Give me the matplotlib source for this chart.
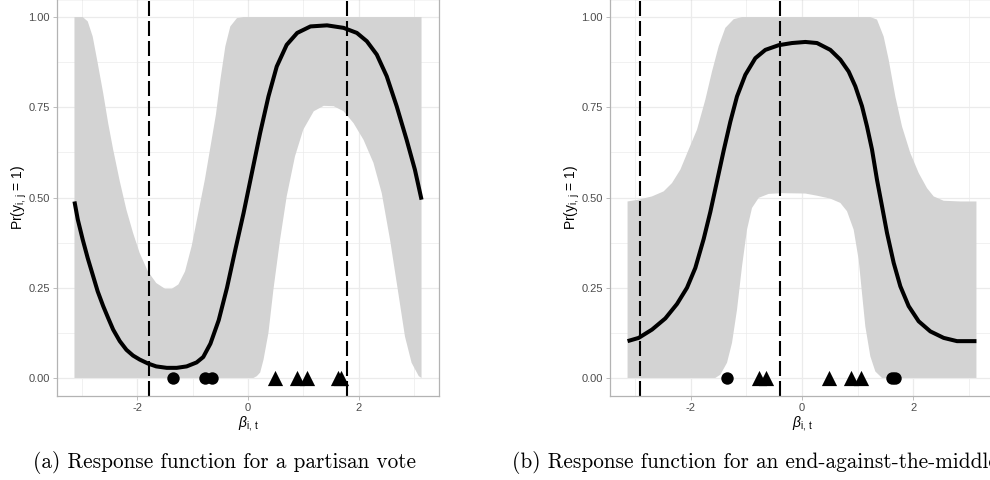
import numpy as np
import matplotlib
matplotlib.use("Agg")
import matplotlib.pyplot as plt
from matplotlib.ticker import MultipleLocator

plt.rcParams['font.family'] = ['Liberation Sans', 'DejaVu Sans']
plt.rcParams['mathtext.fontset'] = 'custom'
plt.rcParams['mathtext.rm'] = 'Liberation Sans'
plt.rcParams['mathtext.it'] = 'Liberation Sans:italic'

# ideal points of the legislators, shared by both votes
ideal_points = [-1.35, -0.77, -0.65, 0.49, 0.88, 1.07, 1.62, 1.68]

# (a) partisan vote
a_vote = [0, 0, 0, 1, 1, 1, 1, 1]
a_mean_x = [-3.14, -3.08, -2.99, -2.90, -2.81, -2.72, -2.62, -2.53, -2.44, -2.32,
            -2.20, -2.08, -1.96, -1.81, -1.66, -1.47, -1.29, -1.11, -0.93, -0.81,
            -0.68, -0.53, -0.38, -0.23, -0.08, 0.07, 0.22, 0.37, 0.52, 0.70, 0.89,
            1.13, 1.43, 1.73, 1.97, 2.15, 2.33, 2.51, 2.69, 2.87, 3.02, 3.14]
a_mean_y = [0.489, 0.439, 0.383, 0.332, 0.286, 0.240, 0.199, 0.166, 0.134, 0.102,
            0.078, 0.062, 0.051, 0.040, 0.032, 0.028, 0.028, 0.032, 0.043, 0.058,
            0.095, 0.160, 0.250, 0.355, 0.457, 0.568, 0.679, 0.780, 0.863, 0.923, 0.956,
            0.974, 0.977, 0.970, 0.956, 0.933, 0.896, 0.836, 0.753, 0.660, 0.577, 0.494]
a_upper_x = [-3.14, -2.99, -2.90, -2.81, -2.72, -2.62, -2.53, -2.44, -2.32, -2.20,
             -2.08, -1.96, -1.81, -1.66, -1.50, -1.38, -1.26, -1.14, -1.02, -0.90,
             -0.78, -0.68, -0.58, -0.50, -0.41, -0.32, -0.20, -0.08, 3.14]
a_upper_y = [1.0, 1.0, 0.988, 0.946, 0.873, 0.789, 0.706, 0.633, 0.545, 0.466,
             0.402, 0.346, 0.295, 0.263, 0.247, 0.247, 0.259, 0.295, 0.365, 0.457,
             0.55, 0.64, 0.73, 0.826, 0.919, 0.974, 0.997, 1.0, 1.0]
a_lower_x = [-3.14, 0.10, 0.16, 0.22, 0.28, 0.37, 0.46, 0.58, 0.70, 0.85, 1.00,
             1.19, 1.37, 1.55, 1.73, 1.91, 2.09, 2.27, 2.42, 2.57, 2.72, 2.84, 2.96,
             3.09, 3.14]
a_lower_y = [0.0, 0.0, 0.005, 0.015, 0.05, 0.125, 0.245, 0.383, 0.503, 0.614, 0.688,
             0.739, 0.754, 0.753, 0.739, 0.706, 0.660, 0.596, 0.512, 0.383, 0.235, 0.115,
             0.042, 0.005, 0.0]
a_cutpoints = [-1.80, 1.80]

# (b) end-against-the-middle vote
b_vote = [0, 1, 1, 1, 1, 1, 0, 0]
b_mean_x = [-3.14, -2.94, -2.70, -2.46, -2.25, -2.07, -1.92, -1.77, -1.65, -1.53,
            -1.41, -1.29, -1.17, -1.02, -0.84, -0.66, -0.42, -0.18, 0.06, 0.27, 0.51,
            0.69, 0.84, 0.96, 1.08, 1.17, 1.26, 1.35, 1.44, 1.53, 1.65, 1.77, 1.92,
            2.10, 2.31, 2.55, 2.79, 3.14]
b_mean_y = [0.102, 0.111, 0.134, 0.165, 0.205, 0.25, 0.305, 0.385, 0.46, 0.545,
            0.63, 0.71, 0.78, 0.84, 0.886, 0.909, 0.922, 0.928, 0.931, 0.928, 0.909,
            0.882, 0.849, 0.808, 0.753, 0.697, 0.633, 0.549, 0.476, 0.402, 0.319, 0.254,
            0.199, 0.157, 0.129, 0.111, 0.102, 0.102]
b_upper_x = [-3.14, -2.94, -2.70, -2.49, -2.34, -2.19, -2.04, -1.89, -1.74, -1.62,
             -1.50, -1.38, -1.23, -1.08, 1.23, 1.35, 1.47, 1.56, 1.68, 1.80, 1.95,
             2.10, 2.25, 2.37, 2.55, 2.85, 3.14]
b_upper_y = [0.489, 0.494, 0.503, 0.517, 0.540, 0.577, 0.633, 0.688, 0.771, 0.849,
             0.919, 0.970, 0.994, 1.0, 1.0, 0.993, 0.946, 0.882, 0.78, 0.697, 0.623,
             0.568, 0.526, 0.503, 0.491, 0.489, 0.489]
b_lower_x = [-3.14, -1.56, -1.47, -1.35, -1.26, -1.17, -1.08, -0.99, -0.90, -0.78,
             -0.60, -0.36, 0.06, 0.27, 0.51, 0.69, 0.81, 0.93, 1.02, 1.08, 1.14,
             1.23, 1.32, 1.44, 3.14]
b_lower_y = [0.0, 0.0, 0.009, 0.042, 0.097, 0.189, 0.309, 0.411, 0.471, 0.499,
             0.51, 0.512, 0.511, 0.505, 0.497, 0.485, 0.462, 0.411, 0.328, 0.235, 0.143,
             0.06, 0.018, 0.0, 0.0]
b_cutpoints = [-2.92, -0.40]

x_ticks = [-2, 0, 2]
x_tick_labels = ['-2', '0', '2']
y_ticks = [0.0, 0.25, 0.5, 0.75, 1.0]
y_tick_labels = ['0.00', '0.25', '0.50', '0.75', '1.00']

captions = ['(a) Response function for a partisan vote',
            '(b) Response function for an end-against-the-middle vote']

GRID = '#EBEBEB'
BORDER = '#B3B3B3'


def draw_panel(ax, mean_x, mean_y, upper_x, upper_y, lower_x, lower_y,
               cutpoints, votes):
    """
    draw one response function: credible band, posterior mean, cutpoints
    and the legislators' votes at their ideal points
    """
    # credible band as a closed polygon, upper edge then lower edge backwards
    band_x = list(upper_x) + list(lower_x[::-1])
    band_y = list(upper_y) + list(lower_y[::-1])
    ax.fill(band_x, band_y, color='#D3D3D3', lw=0, zorder=1)

    ax.plot(mean_x, mean_y, color='black', lw=2.9, solid_capstyle='butt',
            solid_joinstyle='round', zorder=3)

    for c in cutpoints:
        ax.axvline(c, color='black', lw=1.5, ls=(0, (7.2, 2.4)), zorder=2)

    pts = np.array(ideal_points)
    v = np.array(votes)
    ax.scatter(pts[v == 0], np.zeros((v == 0).sum()), marker='o', s=80,
               color='black', lw=0, zorder=4)
    ax.scatter(pts[v == 1], np.zeros((v == 1).sum()), marker='^', s=120,
               color='black', lw=0, zorder=4)

    ax.set_xlim(-3.456, 3.456)
    ax.set_ylim(-0.05, 1.05)
    ax.set_xticks(x_ticks)
    ax.set_xticklabels(x_tick_labels)
    ax.set_yticks(y_ticks)
    ax.set_yticklabels(y_tick_labels)
    ax.xaxis.set_minor_locator(MultipleLocator(1))
    ax.yaxis.set_minor_locator(MultipleLocator(0.125))

    ax.grid(which='major', color=GRID, lw=0.9, zorder=0)
    ax.grid(which='minor', color=GRID, lw=0.5, zorder=0)
    ax.set_axisbelow(True)
    ax.tick_params(which='major', length=3, width=0.6, color=BORDER,
                   labelsize=8, labelcolor='#4D4D4D', pad=2)
    ax.tick_params(which='minor', length=0)
    for s in ax.spines.values():
        s.set_color(BORDER)
        s.set_linewidth(0.9)

    ax.set_xlabel(r'$\beta_{\mathrm{i,\,t}}$', fontsize=10, labelpad=1)
    ax.set_ylabel(r'Pr($\mathrm{y}_{\mathrm{i,\,j}}$ = 1)', fontsize=10, labelpad=0)


fig = plt.figure(figsize=(9.9, 4.8), dpi=100)

ax_a = fig.add_axes([57 / 990, 84 / 480, 382 / 990, 397 / 480])
draw_panel(ax_a, a_mean_x, a_mean_y, a_upper_x, a_upper_y, a_lower_x, a_lower_y,
           a_cutpoints, a_vote)

# the right panel runs past the page edge
ax_b = fig.add_axes([610 / 990, 84 / 480, 384 / 990, 397 / 480])
draw_panel(ax_b, b_mean_x, b_mean_y, b_upper_x, b_upper_y, b_lower_x, b_lower_y,
           b_cutpoints, b_vote)

fig.text(33 / 990, 1 - 463 / 480, captions[0], family='cmr10', fontsize=15.3,
         ha='left', va='center')
fig.text(512 / 990, 1 - 463 / 480, captions[1], family='cmr10', fontsize=15.3,
         ha='left', va='center')

fig.savefig('out.png', dpi=100)
